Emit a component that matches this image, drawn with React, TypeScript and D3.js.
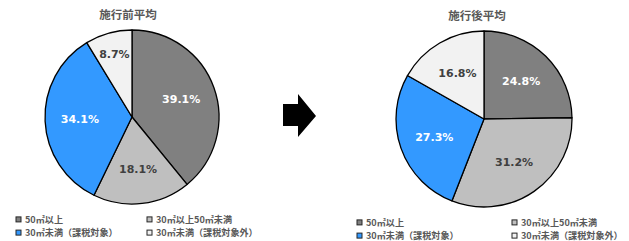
import React, { useEffect, useRef } from "react";
import * as d3 from "d3";

// categories and values
const categories = ["50㎡以上", "30㎡以上50㎡未満", "30㎡未満（課税対象）", "30㎡未満（課税対象外）"];
const beforeValues = [39.1, 18.1, 34.1, 8.7];
const afterValues = [24.8, 31.2, 27.3, 16.8];
const titles = ["施行前平均", "施行後平均"];

const colors = ["#808080", "#bfbfbf", "#3399ff", "#f2f2f2"];
const labelColors = ["#ffffff", "#404040", "#ffffff", "#404040"];

const W = 629, H = 241;

function App() {
    const ref = useRef<SVGSVGElement>(null);

    useEffect(() => {
        const svg = d3.select(ref.current);
        svg.selectAll("*").remove();

        const pies = [
            { title: titles[0], values: beforeValues, cx: 132, cy: 117, r: 87, tx: 128, ty: 18.5, lx: 16, ly: 219.4, colW: 131 },
            { title: titles[1], values: afterValues, cx: 484, cy: 119, r: 88, tx: 477, ty: 19.5, lx: 357, ly: 222.4, colW: 155 },
        ];

        const pie = d3.pie<number>().sort(null).value(d => d);

        pies.forEach(p => {
            const g = svg.append("g").attr("transform", `translate(${p.cx},${p.cy})`);
            const arc = d3.arc<d3.PieArcDatum<number>>().innerRadius(0).outerRadius(p.r);
            const arcs = pie(p.values);

            g.selectAll("path.slice")
                .data(arcs)
                .join("path")
                .attr("class", "slice")
                .attr("d", arc)
                .attr("fill", (d, i) => colors[i])
                .attr("stroke", "#000")
                .attr("stroke-width", 1.3)
                .attr("stroke-linejoin", "round");

            // labels: small slices pushed further out, like Excel's best fit
            g.selectAll("text.lbl")
                .data(arcs)
                .join("text")
                .attr("class", "lbl")
                .attr("transform", d => {
                    const k = d.data < 10 ? 0.75 : 0.6;
                    const la = d3.arc<d3.PieArcDatum<number>>().innerRadius(p.r * k).outerRadius(p.r * k);
                    const [x, y] = la.centroid(d);
                    return `translate(${x},${y})`;
                })
                .attr("text-anchor", "middle")
                .attr("dy", "0.36em")
                .attr("font-family", "'DejaVu Sans', Verdana, sans-serif")
                .attr("font-weight", "bold")
                .attr("font-size", 11)
                .attr("fill", (d, i) => labelColors[i])
                .text(d => d.data.toFixed(1) + "%");

            svg.append("text")
                .attr("x", p.tx)
                .attr("y", p.ty)
                .attr("text-anchor", "middle")
                .attr("font-family", "'Noto Sans CJK JP', sans-serif")
                .attr("font-weight", "bold")
                .attr("font-size", 11.5)
                .attr("fill", "#595959")
                .text(p.title);

            // legend, two columns
            const lg = svg.append("g");
            const items = lg.selectAll("g.item")
                .data(categories)
                .join("g")
                .attr("class", "item")
                .attr("transform", (d, i) => `translate(${p.lx + (i % 2) * p.colW},${p.ly + Math.floor(i / 2) * 13.2})`);
            items.append("rect")
                .attr("x", 0).attr("y", -2.5)
                .attr("width", 5).attr("height", 5)
                .attr("fill", (d, i) => colors[i])
                .attr("stroke", "#262626")
                .attr("stroke-width", 1);
            items.append("text")
                .attr("x", 9)
                .attr("dy", "0.36em")
                .attr("font-family", "'Noto Sans CJK JP', sans-serif")
                .attr("font-size", 9.1)
                .attr("font-weight", "bold")
                .attr("fill", "#595959")
                .text(d => d);
        });

        // block arrow between the two pies
        const arrow = d3.path();
        arrow.moveTo(283, 104);
        arrow.lineTo(298, 104);
        arrow.lineTo(298, 94);
        arrow.lineTo(316, 116);
        arrow.lineTo(298, 137);
        arrow.lineTo(298, 126);
        arrow.lineTo(283, 126);
        arrow.closePath();
        svg.append("path").attr("d", arrow.toString()).attr("fill", "#000");
    }, []);

    return (
        <div style={{ position: "absolute", left: 0, top: 0 }}>
            <svg ref={ref} width={W} height={H} style={{ display: "block", background: "#fff" }} />
        </div>
    );
}

export default App;
